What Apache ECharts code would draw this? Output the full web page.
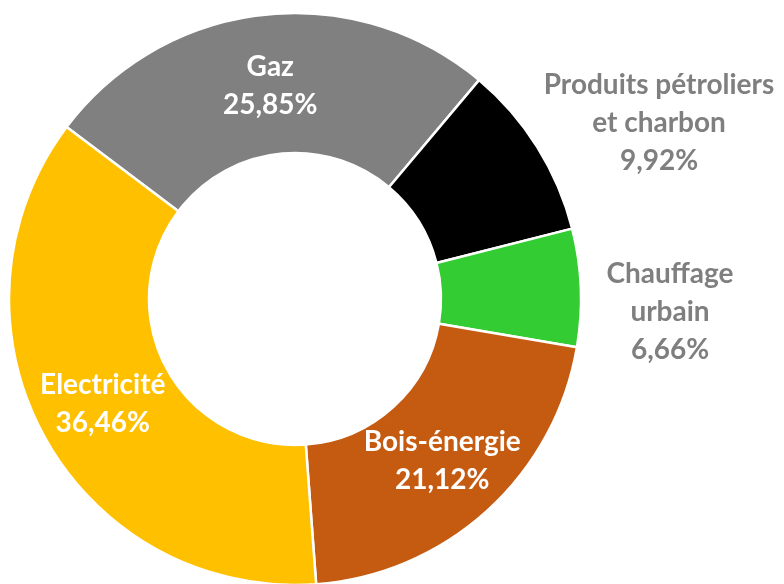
<!DOCTYPE html>
<html><head><meta charset="utf-8">
<script src="https://cdn.jsdelivr.net/npm/echarts@6/dist/echarts.min.js"></script>
<style>html,body{margin:0;padding:0;background:#fff}#c{width:784px;height:584px}</style>
</head><body><div id="c"></div>
<script>
const categories = ['Gaz', 'Produits pétroliers\net charbon', 'Chauffage\nurbain', 'Bois-énergie', 'Electricité'];
const values = [25.85, 9.92, 6.66, 21.12, 36.46];
const colors = ['#808080', '#000000', '#33cc33', '#c55a11', '#ffc000'];
const labelInside = [true, false, false, true, true];

const outsidePos = { 1: [659, 123], 2: [670, 312] };

const chart = echarts.init(document.getElementById('c'), null, { renderer: 'canvas' });
const fmt = v => v.toFixed(2).replace('.', ',') + '%';

chart.setOption({
  animation: false,
  backgroundColor: '#ffffff',
  series: [{
    type: 'pie',
    center: [295, 299],
    radius: [146, 286],
    startAngle: 143,
    clockwise: true,
    avoidLabelOverlap: false,
    itemStyle: { borderColor: '#ffffff', borderWidth: 2.5 },
    labelLine: { show: false },
    labelLayout: function (p) {
      const pos = outsidePos[p.dataIndex];
      if (pos) return { x: pos[0], y: pos[1], align: 'center', verticalAlign: 'middle' };
      if (p.dataIndex === 0) return { dy: 5 };
      return {};
    },
    data: categories.map((n, i) => ({
      name: n,
      value: values[i],
      itemStyle: { color: colors[i] },
      label: {
        show: true,
        position: labelInside[i] ? 'inside' : 'outside',
        formatter: n + '\n' + fmt(values[i]),
        color: labelInside[i] ? '#ffffff' : '#7f7f7f',
        fontFamily: 'Lato',
        fontWeight: 'bold',
        fontSize: 28,
        lineHeight: 38,
        align: 'center'
      }
    }))
  }]
});
</script>
</body></html>
